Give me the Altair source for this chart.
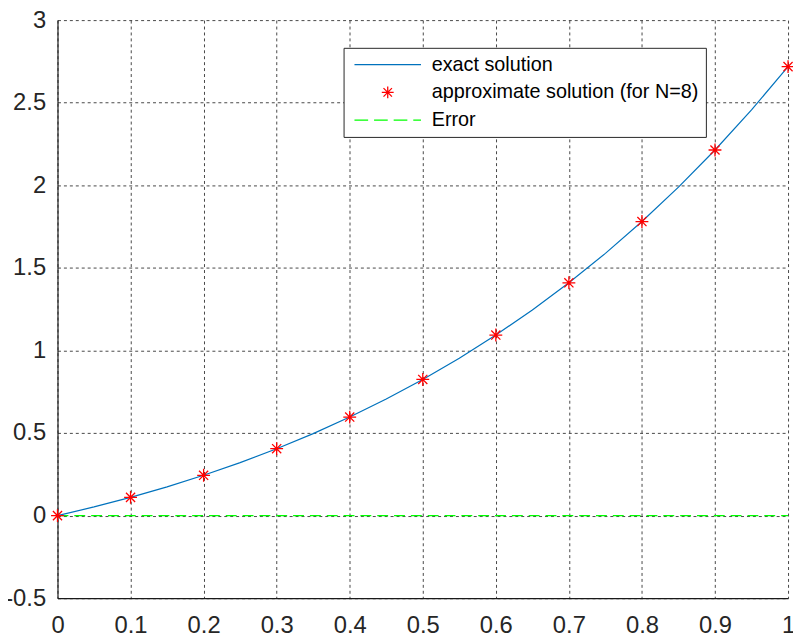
import altair as alt
import pandas as pd

# exact solution curve
x_exact = [0, 0.05, 0.1, 0.15, 0.2, 0.25, 0.3, 0.35, 0.4, 0.45, 0.5,
           0.55, 0.6, 0.65, 0.7, 0.75, 0.8, 0.85, 0.9, 0.95, 1.0]
y_exact = [0, 0.0526, 0.1105, 0.1743, 0.2443, 0.3210, 0.4050, 0.4967, 0.5967, 0.7057, 0.8244,
           0.9533, 1.0933, 1.2451, 1.4096, 1.5878, 1.7804, 1.9887, 2.2136, 2.4564, 2.7183]

# approximate solution points (N=8)
x_approx = [0, 0.1, 0.2, 0.3, 0.4, 0.5, 0.6, 0.7, 0.8, 0.9, 1.0]
y_approx = [0, 0.1105, 0.2443, 0.4050, 0.5967, 0.8244, 1.0933, 1.4096, 1.7804, 2.2136, 2.7183]

# error
x_err = [0, 1.0]
y_err = [0, 0]

series = ["exact solution", "approximate solution (for N=8)", "Error"]
colors = ["#0072BD", "#FF0000", "#00FF00"]

x_ticks = [0, 0.1, 0.2, 0.3, 0.4, 0.5, 0.6, 0.7, 0.8, 0.9, 1.0]
y_ticks = [-0.5, 0, 0.5, 1, 1.5, 2, 2.5, 3]

df_exact = pd.DataFrame({"x": x_exact, "y": y_exact})
df_approx = pd.DataFrame({"x": x_approx, "y": y_approx})
df_err = pd.DataFrame({"x": x_err, "y": y_err})
df_leg = pd.DataFrame({"x": [0, 0, 0], "y": [0, 0, 0], "series": series})

star = "M0,-1V1M-1,0H1M-0.71,-0.71L0.71,0.71M-0.71,0.71L0.71,-0.71"
leg_line = "M-1,0H10.2"
leg_star = "M4.6,-1V1M3.6,0H5.6M3.89,-0.71L5.31,0.71M3.89,0.71L5.31,-0.71"
leg_dash = "M-1,0H1.3M2.3,0H4.6M5.6,0H7.9M8.9,0H10.2"

xs = alt.Scale(domain=[0, 1], nice=False)
ys = alt.Scale(domain=[-0.5, 3], nice=False)
xax = alt.Axis(values=x_ticks, labelExpr="toString(datum.value)", title=None, labelFlush=False,
               labelPadding=16)
yax = alt.Axis(values=y_ticks, labelExpr="toString(datum.value)", title=None, labelFlush=False,
               labelPadding=12)

exact = alt.Chart(df_exact).mark_line(color="#0072BD", strokeWidth=1.2).encode(
    x=alt.X("x:Q", scale=xs, axis=xax),
    y=alt.Y("y:Q", scale=ys, axis=yax),
)

err = alt.Chart(df_err).mark_line(color="#00FF00", strokeWidth=1.5, strokeDash=[11, 6]).encode(
    x=alt.X("x:Q", scale=xs, axis=xax),
    y=alt.Y("y:Q", scale=ys, axis=yax),
)

approx = alt.Chart(df_approx).mark_point(
    shape=star, color="#FF0000", filled=False, size=169, strokeWidth=1.3, opacity=1
).encode(
    x=alt.X("x:Q", scale=xs, axis=xax),
    y=alt.Y("y:Q", scale=ys, axis=yax),
)

legend = alt.Legend(
    title=None, orient="none", legendX=289, legendY=28,
    symbolSize=144, labelOffset=62, symbolStrokeWidth=1.3, labelLimit=0,
)

leg = alt.Chart(df_leg).transform_filter("false").mark_point(
    filled=False, size=144, strokeWidth=1.3, opacity=1
).encode(
    x=alt.X("x:Q", scale=xs, axis=xax),
    y=alt.Y("y:Q", scale=ys, axis=yax),
    color=alt.Color("series:N", scale=alt.Scale(domain=series, range=colors), legend=legend),
    shape=alt.Shape("series:N", scale=alt.Scale(domain=series, range=[leg_line, leg_star, leg_dash]),
                    legend=legend),
)

chart = alt.layer(exact, err, approx, leg).properties(
    width=738, height=584,
    autosize=alt.AutoSizeParams(type="none"),
    padding={"left": 50, "top": 9, "right": 5, "bottom": 40},
).configure_view(stroke=None).configure_axis(
    labelFont="Liberation Sans", labelFontSize=24, labelColor="#262626",
    domainColor="#1a1a1a", domainWidth=1.2,
    grid=True, gridColor="#262626", gridDash=[3, 3], gridOpacity=0.85, gridWidth=1,
    ticks=False,
).configure_legend(
    labelFont="Liberation Sans", labelFontSize=20, labelColor="#000000",
    strokeColor="#262626", fillColor="white", padding=7, rowPadding=8,
    cornerRadius=0,
)

chart.save("out.html", embed_options={"renderer": "svg", "actions": False})
